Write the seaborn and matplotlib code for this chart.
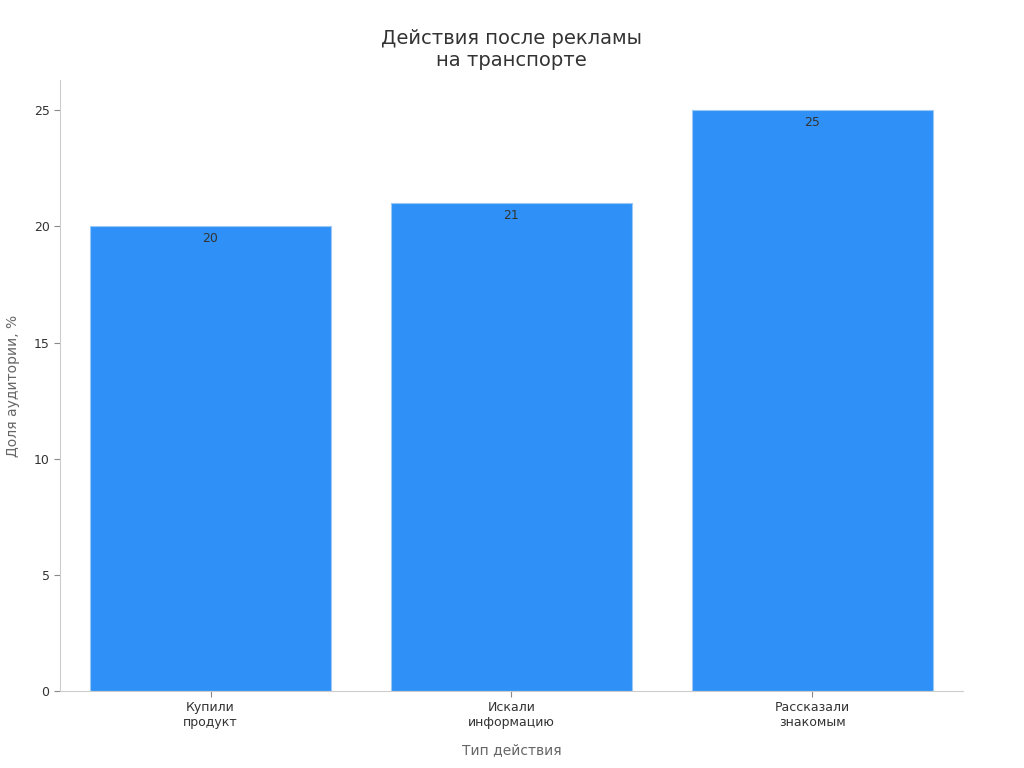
import matplotlib
matplotlib.use("Agg")
import matplotlib.pyplot as plt
import pandas as pd
import seaborn as sns

categories = ["Купили\nпродукт", "Искали\nинформацию", "Рассказали\nзнакомым"]
shares = [20, 21, 25]

df = pd.DataFrame({"Тип действия": categories, "Доля": shares})

sns.set_style("white")
plt.rcParams["font.family"] = ["DejaVu Sans"]

fig, ax = plt.subplots(figsize=(10.24, 7.68), dpi=100)
fig.subplots_adjust(left=0.0586, right=0.9404, top=0.8958, bottom=0.1003)

sns.barplot(data=df, x="Тип действия", y="Доля", color="#2F91F7",
            width=0.8, edgecolor="#9cc8f5", linewidth=0.8, saturation=1, ax=ax)

for i, v in enumerate(shares):
    ax.text(i, v - 0.25, str(v), ha="center", va="top", fontsize=9, color="#333333")

ax.set_xlim(-0.5, 2.5)
ax.set_ylim(0, 26.3)
ax.set_yticks([0, 5, 10, 15, 20, 25])
ax.set_title("Действия после рекламы\nна транспорте", fontsize=14, color="#333333", pad=10)
ax.set_xlabel("Тип действия", fontsize=10, color="#666666", labelpad=10)
ax.set_ylabel("Доля аудитории, %", fontsize=10, color="#666666", labelpad=10)
ax.tick_params(axis="both", labelsize=9, colors="#333333", length=4, color="#888888",
               bottom=True, left=True)
for side in ["top", "right"]:
    ax.spines[side].set_visible(False)
for side in ["left", "bottom"]:
    ax.spines[side].set_color("#cccccc")
    ax.spines[side].set_linewidth(0.8)

fig.savefig("out.png", dpi=100)
